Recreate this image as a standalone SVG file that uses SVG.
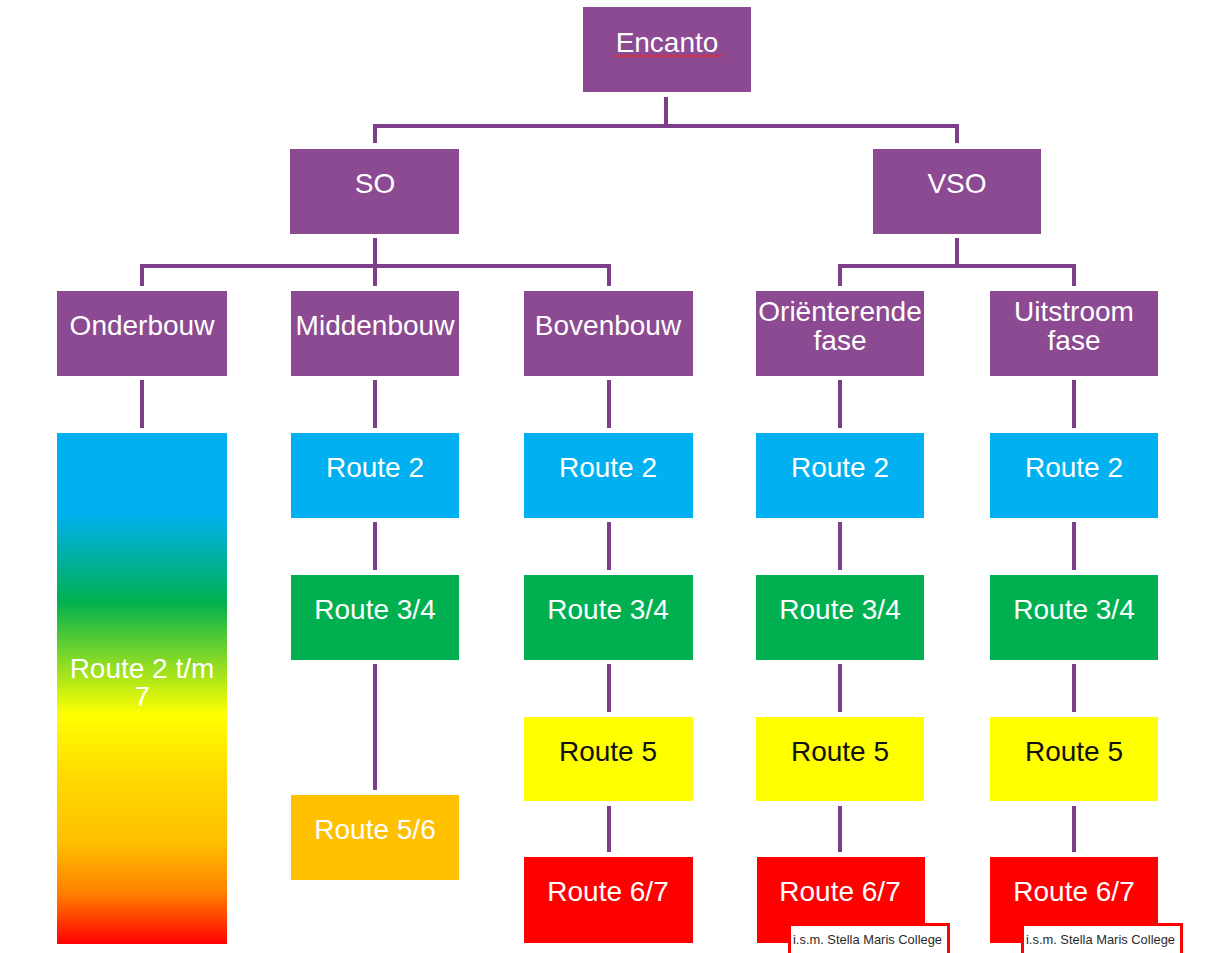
<svg xmlns="http://www.w3.org/2000/svg" width="1207" height="953" viewBox="0 0 1207 953">
<defs>
<linearGradient id="rainbow" x1="0" y1="0" x2="0" y2="1">
<stop offset="0" stop-color="#00B0F0"/>
<stop offset="0.16" stop-color="#00B0F0"/>
<stop offset="0.33" stop-color="#00B050"/>
<stop offset="0.55" stop-color="#FFFF00"/>
<stop offset="0.68" stop-color="#FFD800"/>
<stop offset="0.8" stop-color="#FFC000"/>
<stop offset="0.9" stop-color="#FF8000"/>
<stop offset="1" stop-color="#FF0000"/>
</linearGradient>
<style>
.p{fill:#8C4A92}
.b{fill:#00B0F0}
.g{fill:#00B050}
.y{fill:#FFFF00}
.o{fill:#FFC000}
.r{fill:#FF0000}
.t{font-family:"Liberation Sans",Arial,sans-serif;font-size:28px;fill:#FFFFFF;text-anchor:middle}
.tk{fill:#111111}
.c{fill:none;stroke:#7D3F89;stroke-width:4;stroke-linejoin:miter;stroke-linecap:butt}
.sm{fill:#FFFFFF;stroke:#FF0000;stroke-width:3}
.st{font-family:"Liberation Sans",Arial,sans-serif;font-size:12.9px;fill:#2A2A2A}
</style>
</defs>
<rect width="1207" height="953" fill="#FFFFFF"/>
<g id="connectors">
<path class="c" d="M666,97 V126 M375,143 V126 H957 V143"/>
<path class="c" d="M375,238 V286 M142,286 V266 H609 V286"/>
<path class="c" d="M957,238 V266 M840,286 V266 H1074 V286"/>
<path class="c" d="M142,380 V428 M375,380 V428 M609,380 V428 M840,380 V428 M1074,380 V428"/>
<path class="c" d="M375,522 V570 M609,522 V570 M840,522 V570 M1074,522 V570"/>
<path class="c" d="M375,664 V790 M609,664 V712 M840,664 V712 M1074,664 V712"/>
<path class="c" d="M609,806 V852 M840,806 V852 M1074,806 V852"/>
</g>
<g id="encanto">
<rect class="p" x="583" y="7" width="168" height="85"/>
<text class="t" x="667" y="52">Encanto</text>
<path d="M614,57 l2,-2 l2,2 l2,-2 l2,2 l2,-2 l2,2 l2,-2 l2,2 l2,-2 l2,2 l2,-2 l2,2 l2,-2 l2,2 l2,-2 l2,2 l2,-2 l2,2 l2,-2 l2,2 l2,-2 l2,2 l2,-2 l2,2 l2,-2 l2,2 l2,-2 l2,2 l2,-2 l2,2 l2,-2 l2,2 l2,-2 l2,2 l2,-2 l2,2 l2,-2 l2,2 l2,-2 l2,2 l2,-2 l2,2 l2,-2 l2,2 l2,-2 l2,2 l2,-2 l2,2 l2,-2 l2,2 l2,-2 l2,2 l2,-2 l2,2" fill="none" stroke="#E02A3A" stroke-width="1.2"/>
</g>
<g id="so">
<rect class="p" x="290" y="149" width="169" height="85"/>
<text class="t" x="375" y="193">SO</text>
</g>
<g id="vso">
<rect class="p" x="873" y="149" width="168" height="85"/>
<text class="t" x="957" y="193">VSO</text>
</g>
<g id="onderbouw">
<rect class="p" x="57" y="291" width="170" height="85"/>
<text class="t" x="142" y="335">Onderbouw</text>
</g>
<g id="middenbouw">
<rect class="p" x="291" y="291" width="168" height="85"/>
<text class="t" x="375" y="335">Middenbouw</text>
</g>
<g id="bovenbouw">
<rect class="p" x="524" y="291" width="169" height="85"/>
<text class="t" x="608" y="335">Bovenbouw</text>
</g>
<g id="orienterende">
<rect class="p" x="756" y="291" width="168" height="85"/>
<text class="t" x="840" y="321">Oriënterende</text>
<text class="t" x="840" y="350">fase</text>
</g>
<g id="uitstroom">
<rect class="p" x="990" y="291" width="168" height="85"/>
<text class="t" x="1074" y="321">Uitstroom</text>
<text class="t" x="1074" y="350">fase</text>
</g>
<g id="onder-route">
<rect x="57" y="433" width="170" height="511" fill="url(#rainbow)"/>
<text class="t" x="142" y="678">Route 2 t/m</text>
<text class="t" x="142" y="706">7</text>
</g>
<g id="midden-route2"><rect class="b" x="291" y="433" width="168" height="85"/><text class="t" x="375" y="477">Route 2</text></g>
<g id="midden-route34"><rect class="g" x="291" y="575" width="168" height="85"/><text class="t" x="375" y="619">Route 3/4</text></g>
<g id="midden-route56"><rect class="o" x="291" y="795" width="168" height="85"/><text class="t" x="375" y="839">Route 5/6</text></g>
<g id="boven-route2"><rect class="b" x="524" y="433" width="169" height="85"/><text class="t" x="608" y="477">Route 2</text></g>
<g id="boven-route34"><rect class="g" x="524" y="575" width="169" height="85"/><text class="t" x="608" y="619">Route 3/4</text></g>
<g id="boven-route5"><rect class="y" x="524" y="717" width="169" height="84"/><text class="t tk" x="608" y="761">Route 5</text></g>
<g id="boven-route67"><rect class="r" x="524" y="857" width="169" height="86"/><text class="t" x="608" y="901">Route 6/7</text></g>
<g id="orient-route2"><rect class="b" x="756" y="433" width="168" height="85"/><text class="t" x="840" y="477">Route 2</text></g>
<g id="orient-route34"><rect class="g" x="756" y="575" width="168" height="85"/><text class="t" x="840" y="619">Route 3/4</text></g>
<g id="orient-route5"><rect class="y" x="756" y="717" width="168" height="84"/><text class="t tk" x="840" y="761">Route 5</text></g>
<g id="orient-route67"><rect class="r" x="757" y="857" width="168" height="86"/><text class="t" x="840" y="901">Route 6/7</text>
<rect class="sm" x="789.5" y="924.5" width="159" height="40"/><text class="st" x="793" y="944">i.s.m. Stella Maris College</text></g>
<g id="uit-route2"><rect class="b" x="990" y="433" width="168" height="85"/><text class="t" x="1074" y="477">Route 2</text></g>
<g id="uit-route34"><rect class="g" x="990" y="575" width="168" height="85"/><text class="t" x="1074" y="619">Route 3/4</text></g>
<g id="uit-route5"><rect class="y" x="990" y="717" width="168" height="84"/><text class="t tk" x="1074" y="761">Route 5</text></g>
<g id="uit-route67"><rect class="r" x="990" y="857" width="168" height="86"/><text class="t" x="1074" y="901">Route 6/7</text>
<rect class="sm" x="1022.5" y="924.5" width="159" height="40"/><text class="st" x="1026" y="944">i.s.m. Stella Maris College</text></g>
</svg>
